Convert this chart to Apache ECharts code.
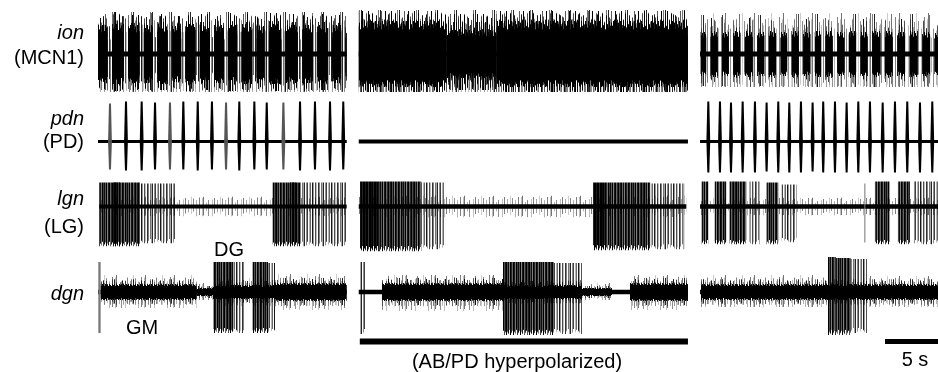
<!DOCTYPE html>
<html><head><meta charset="utf-8">
<script src="https://cdn.jsdelivr.net/npm/echarts@6/dist/echarts.min.js"></script>
<style>html,body{margin:0;padding:0;background:#fff}#c{width:938px;height:372px}</style>
</head><body><div id="c"></div>
<script>
// ---------------- DATA (time in s, amplitude in trace units) ----------------
var TIME_MAX = 79.25;
var panels = [[0.0, 23.47], [24.6, 55.66], [56.8, 79.25]];
var rowLabels = [['ion', '(MCN1)'], ['pdn', '(PD)'], ['lgn', '(LG)'], ['dgn', '']];
var burstLabels = ['DG', 'GM'];
var stimLabel = '(AB/PD hyperpolarized)';
var scaleLabel = '5 s';
var stimBar = [[24.7, 55.66, -46.5, -52.5, 0]];
var scaleBar = [[74.25, 79.25, -47, -52, 0]];

// ion (MCN1): envelope [t0,t1,top,bottom,fill]
var ionEnvelope = [[0.0, 23.47, 42, -38, 2], [24.6, 55.66, 44, -38, 2], [56.8, 79.25, 41, -33, 3]];
// ion bursts [t0,t1,top,bottom,coreHalf,outerFill]
var ionBursts = [
  [0.0,0.93,40,-36,29,1],[1.33,2.44,42,-37,30,1],[2.84,3.92,39,-36,29,1],[4.32,5.18,41,-37,29,1],
  [5.58,6.59,40,-36,30,1],[6.99,7.85,38,-35,28,1],[8.25,9.21,41,-37,30,1],[9.61,10.55,40,-36,29,1],
  [10.95,11.88,39,-36,29,1],[12.28,13.13,41,-37,29,1],[13.53,14.55,40,-36,30,1],[14.95,15.72,39,-35,28,1],
  [16.12,17.29,41,-37,30,1],[17.69,18.86,40,-36,29,1],[19.26,20.27,41,-37,29,1],[20.67,21.69,40,-36,29,1],
  [22.09,22.94,39,-36,29,1],[23.34,23.47,38,-35,28,1],
  [24.6,32.9,43,-38,33,1],[32.9,37.6,40,-36,24,1],[37.6,55.66,43,-38,33,1],
  [56.85,57.38,39,-32,22,2],[57.78,58.48,40,-33,23,2],[58.88,59.52,39,-32,22,2],[59.92,60.62,40,-33,23,2],
  [61.02,61.78,40,-33,23,2],[62.18,62.88,39,-32,22,2],[63.28,63.98,40,-33,23,2],[64.38,65.02,39,-32,22,2],
  [65.42,66.12,40,-33,23,2],[66.52,67.22,39,-32,22,2],[67.62,68.22,40,-33,23,2],[68.62,69.33,40,-33,23,2],
  [69.73,70.43,39,-32,22,2],[70.83,71.53,40,-33,23,2],[71.93,72.63,39,-32,22,2],[73.03,73.83,40,-33,23,2],
  [74.23,74.99,40,-33,23,2],[75.39,76.15,39,-32,22,2],[76.55,77.35,40,-33,23,2],[77.75,78.51,39,-32,22,2],
  [78.91,79.25,38,-31,21,2]
];
var ionBase = [[0.0,23.47,2.5,-2.5,0],[24.6,55.66,2.5,-2.5,0],[56.8,79.25,2.5,-2.5,0]];

// pdn (PD): bursts [tCentre, top, bottom, shade]
var pdBursts = [
  [1.13,38,-28,1],[2.64,40,-29,0],[4.12,40,-29,0],[5.38,39,-28,0],[6.79,39,-28,1],[8.05,40,-28,0],
  [9.41,40,-29,0],[10.75,40,-28,0],[12.08,39,-28,1],[13.33,40,-29,0],[14.75,40,-28,0],[15.92,39,-28,0],
  [17.49,39,-28,1],[19.06,40,-29,0],[20.47,40,-28,0],[21.89,40,-29,0],[23.14,40,-28,0],
  [57.58,40,-31,0],[58.68,40,-31,0],[59.72,39,-31,0],[60.82,40,-31,0],[61.98,40,-31,0],[63.08,39,-30,0],
  [64.18,40,-31,0],[65.22,39,-31,0],[66.32,40,-31,0],[67.42,39,-30,0],[68.42,40,-31,0],[69.53,40,-31,0],
  [70.63,39,-31,0],[71.73,40,-31,0],[72.83,40,-31,0],[74.03,39,-31,0],[75.19,40,-31,0],[76.35,40,-31,0],
  [77.55,39,-31,0],[78.71,40,-31,0]
];
var pdBase = [[0.0,23.47,1.5,-1.5,0],[24.6,55.66,2,-2,0],[56.8,79.25,1.5,-1.5,0]];

// lgn (LG): fuzz, baseline, bursts [t0,t1,top,bottom,fill]
var lgFuzz = [[0.12,23.46,10,-10,3],[24.6,55.5,11,-11,3],[56.8,79.25,9,-9,3]];
var lgBase = [[0.12,23.46,2,-2,0],[24.6,55.5,2.2,-2.2,0],[56.8,79.25,2.2,-2.2,0]];
var lgBursts = [
  [0.12,3.96,24,-40,6],[1.42,2.08,24,-40,6],[3.96,7.26,23,-37,7],
  [16.48,19.06,24,-40,6],[18.1,18.7,24,-40,6],[19.06,23.4,24,-40,7],
  [24.72,26.5,25,-45,8],[26.5,27.83,25,-45,6],[27.83,30.5,25,-45,6],[30.5,32.74,24,-43,7],
  [46.7,48.0,24,-44,8],[48.0,49.5,24,-44,6],[49.5,52.1,24,-44,6],[52.1,55.3,23,-43,7],
  [56.95,57.58,25,-38,6],[58.18,59.27,25,-38,6],[59.59,61.16,25,-38,6],[61.48,62.45,25,-38,7],
  [63.08,64.18,24,-38,6],[64.5,65.91,22,-36,7],[72.3,72.4,23,-36,4],
  [73.3,74.7,25,-38,6],[75.47,76.6,25,-38,6],[76.9,79.25,25,-38,7]
];

// dgn: fuzz [t0,t1,outerTop,outerBottom,coreHalf], baseline, bursts [t0,t1,top,bottom,fill]
var dgFuzz = [
  [0.25,9.3,17,-16,8],[9.3,10.85,9,-8,4],[10.85,16.7,14,-14,7],[16.7,23.47,18,-18,9],
  [26.79,38.21,17,-19,9],[38.21,45.66,12,-12,7],[45.66,48.49,9,-8,4],[50.19,55.66,17,-18,9],
  [56.89,68.87,17,-15,8],[68.87,72.55,12,-12,8],[72.55,79.25,16,-15,8]
];
var dgBase = [[0.0,23.47,2.2,-2.2,0],[24.6,55.66,2.2,-2.2,0],[56.8,79.25,2.2,-2.2,0]];
var dgBursts = [
  [0.03,0.25,30,-41,4],[10.88,12.77,30,-41,6],[12.77,13.87,30,-41,7],[14.59,16.04,30,-41,6],[16.04,16.7,29,-41,7],
  [24.72,25.19,30,-42,7],[38.21,40.0,30,-43,6],[40.0,43.0,30,-43,6],[43.0,45.66,29,-42,7],
  [68.87,69.6,35,-43,6],[69.6,71.0,34,-43,6],[71.0,72.55,33,-41,7]
];

// ---------------- STYLE / LAYOUT ----------------
var ROW_BASE = [54, 141.5, 206.5, 292];
var FONT = '"Liberation Sans", Arial, Helvetica, sans-serif';
// spike texture (style only): per-column opacity and relative line heights
var A_DENSE = [1,0.7,0.95,0.5,1,0.85,0.6,1,0.9,0.55,1,0.75,0.95,0.65,1,0.5,0.9,1,0.6,0.85,1,0.7,0.9];
var A_MED = [0.85,0,0.45,0.75,0,0.3,0.6,0,0.9,0.4,0,0.7,0.25,0,0.8,0.5,0,0.55,0.35];
var A_LIGHT = [0.55,0,0,0.3,0,0.45,0,0,0,0.25,0,0.5,0,0,0.35,0,0,0.2,0,0.45,0,0,0.3,0,0,0.5,0,0,0.25];
var A_CORE = [1,1,1,1,1,1,1];
var A_DARK = [1,1,0.9,1,1,0.8,1,1,0.95,1,0.85];
var H_UP = [1,0.55,0.8,0.4,0.95,0.62,0.75,0.48,0.9,0.7,0.42,0.85,0.52,1,0.66,0.35,0.8];
var H_DOWN = [0.9,0.6,1,0.45,0.75,0.95,0.5,0.85,0.65,1,0.4,0.7,0.88];
var H_TALL_UP = [1,0.95,0.9,1,0.85,0.97,1,0.92,0.88,1,0.94];
var H_TALL_DOWN = [1,0.93,0.97,0.88,1,0.95,0.9];
var H_CORE_UP = [1,0.85,0.95,0.75,1,0.9,0.8,0.97,0.85];
var H_CORE_DOWN = [0.9,1,0.8,0.95,0.85];

function spikeImg(alpha, up, down) {
  var n = alpha.length, c = document.createElement('canvas');
  c.width = n; c.height = 100;
  var g = c.getContext('2d');
  for (var i = 0; i < n; i++) {
    if (!alpha[i]) continue;
    var u = up[i % up.length] * 50, d = down[i % down.length] * 50;
    g.fillStyle = 'rgba(0,0,0,' + alpha[i] + ')';
    g.fillRect(i, 50 - u, 1, u + d);
  }
  return c;
}
var FILLS = [
  '#000',
  spikeImg(A_DENSE, H_UP, H_DOWN),
  spikeImg(A_MED, H_UP, H_DOWN),
  spikeImg(A_LIGHT, H_UP, H_DOWN),
  '#7a7a7a',
  spikeImg(A_CORE, H_CORE_UP, H_CORE_DOWN),
  spikeImg(A_DENSE, H_TALL_UP, H_TALL_DOWN),
  spikeImg(A_MED, H_TALL_UP, H_TALL_DOWN),
  spikeImg(A_DARK, H_TALL_UP, H_TALL_DOWN)
];

function rectShape(api, t0, t1, top, bot) {
  var a = api.coord([t0, top]), b = api.coord([t1, bot]);
  return { x: a[0], y: a[1], width: Math.max(b[0] - a[0], 1), height: b[1] - a[1] };
}
function fillFor(k, api, t, top, bot) {
  var f = FILLS[k];
  if (typeof f === 'string') return f;
  var m = api.coord([t, 0])[1], yt = api.coord([t, top])[1], yb = api.coord([t, bot])[1];
  var amp = Math.max(m - yt, yb - m, 1);
  return { image: f, repeat: 'repeat-x', x: 0, y: m - amp, scaleX: 1, scaleY: amp / 50 };
}
function rectEl(api, t0, t1, top, bot, k) {
  return { type: 'rect', shape: rectShape(api, t0, t1, top, bot), style: { fill: fillFor(k, api, t0, top, bot) } };
}
function segRender(params, api) {
  return rectEl(api, api.value(0), api.value(1), api.value(2), api.value(3), api.value(4));
}
function ionRender(params, api) {
  var t0 = api.value(0), t1 = api.value(1), c = api.value(4);
  return { type: 'group', children: [
    rectEl(api, t0, t1, api.value(2), api.value(3), api.value(5)),
    rectEl(api, t0, t1, c, -c, 5)
  ] };
}
function fuzzRender(params, api) {
  var t0 = api.value(0), t1 = api.value(1), c = api.value(4);
  return { type: 'group', children: [
    rectEl(api, t0, t1, api.value(2), api.value(3), 3),
    rectEl(api, t0, t1, c * 1.6, -c * 1.6, 2),
    rectEl(api, t0, t1, c, -c, 5)
  ] };
}
function pdRender(params, api) {
  var tc = api.value(0);
  var m = api.coord([tc, 0]), t = api.coord([tc, api.value(1)]), b = api.coord([tc, api.value(2)]);
  var hw = 1.9, tw = 1.0;
  return { type: 'polygon', shape: { points: [
    [m[0] - hw, m[1]], [m[0] - tw, t[1]], [m[0] + tw, t[1]], [m[0] + hw, m[1]], [m[0] + tw, b[1]], [m[0] - tw, b[1]]
  ] }, style: { fill: api.value(3) ? '#555' : '#000' } };
}

var grids = [], xAxes = [], yAxes = [], series = [];
ROW_BASE.forEach(function (base, i) {
  grids.push({ left: 98, right: 0, top: base - 50, height: 100 });
  xAxes.push({ type: 'value', gridIndex: i, min: 0, max: TIME_MAX, show: false });
  yAxes.push({ type: 'value', gridIndex: i, min: -50, max: 50, show: false });
});
function add(i, data, render) {
  series.push({ type: 'custom', xAxisIndex: i, yAxisIndex: i, data: data, renderItem: render, silent: true });
}
add(0, ionEnvelope, segRender); add(0, ionBase, segRender); add(0, ionBursts, ionRender);
add(1, pdBase, segRender); add(1, pdBursts, pdRender);
add(2, lgFuzz, segRender); add(2, lgBase, segRender); add(2, lgBursts, segRender);
add(3, dgFuzz, fuzzRender); add(3, dgBase, segRender); add(3, dgBursts, segRender);
add(3, stimBar, segRender); add(3, scaleBar, segRender);

function txt(s, x, y, italic, align) {
  return { type: 'text', x: x, y: y, silent: true, style: {
    text: s, fill: '#000', font: (italic ? 'italic ' : '') + '20px ' + FONT,
    textAlign: align || 'right', align: align || 'right', textVerticalAlign: 'middle', verticalAlign: 'middle' } };
}
var graphics = [
  txt(rowLabels[0][0], 84, 33, true), txt(rowLabels[0][1], 84, 58),
  txt(rowLabels[1][0], 84, 119, true), txt(rowLabels[1][1], 84, 142.5),
  txt(rowLabels[2][0], 84, 199, true), txt(rowLabels[2][1], 84, 227),
  txt(rowLabels[3][0], 84, 294, true),
  txt(burstLabels[0], 229, 250, false, 'center'), txt(burstLabels[1], 142, 328, false, 'center'),
  txt(stimLabel, 517, 362, false, 'center'), txt(scaleLabel, 915, 360, false, 'center')
];

var chart = echarts.init(document.getElementById('c'), null, { renderer: 'canvas' });
chart.setOption({ animation: false, backgroundColor: '#fff', grid: grids, xAxis: xAxes, yAxis: yAxes,
  series: series, graphic: { elements: graphics } });
</script></body></html>
